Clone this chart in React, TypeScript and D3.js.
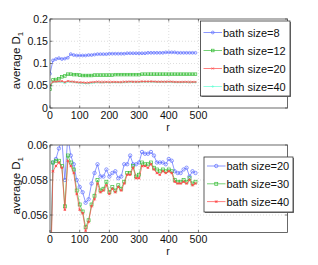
import React from "react";
import * as d3 from "d3";

const rValues = d3.range(0, 500, 10);

const bath8 = [0.077, 0.107, 0.110, 0.112, 0.110, 0.111, 0.113, 0.121, 0.119, 0.118, 0.118, 0.118, 0.118, 0.119, 0.119, 0.120, 0.121, 0.121, 0.121, 0.121, 0.122, 0.122, 0.122, 0.122, 0.122, 0.122, 0.123, 0.123, 0.123, 0.123, 0.123, 0.123, 0.123, 0.124, 0.124, 0.124, 0.124, 0.124, 0.124, 0.125, 0.125, 0.125, 0.125, 0.124, 0.124, 0.124, 0.124, 0.124, 0.124, 0.124];
const bath12 = [0.042, 0.063, 0.064, 0.066, 0.070, 0.072, 0.076, 0.076, 0.075, 0.075, 0.074, 0.073, 0.073, 0.073, 0.073, 0.074, 0.074, 0.074, 0.074, 0.074, 0.074, 0.074, 0.075, 0.075, 0.075, 0.075, 0.075, 0.075, 0.075, 0.075, 0.075, 0.076, 0.076, 0.076, 0.076, 0.076, 0.076, 0.076, 0.076, 0.076, 0.076, 0.076, 0.076, 0.076, 0.076, 0.076, 0.076, 0.076, 0.076, 0.076];
const bath20 = [0.052, 0.0590, 0.0592, 0.0598, 0.0603, 0.0580, 0.0605, 0.0594, 0.0589, 0.0580, 0.0576, 0.0573, 0.0567, 0.0569, 0.0578, 0.0584, 0.0589, 0.0582, 0.0582, 0.0586, 0.0582, 0.0584, 0.0585, 0.0581, 0.0582, 0.0589, 0.0589, 0.0594, 0.0589, 0.0589, 0.0590, 0.0596, 0.0595, 0.0595, 0.0596, 0.0594, 0.0590, 0.0590, 0.0590, 0.0589, 0.0592, 0.0591, 0.0585, 0.0584, 0.0584, 0.0586, 0.0587, 0.0582, 0.0585, 0.0584];
const bath30 = [0.0515, 0.0590, 0.0591, 0.0591, 0.0588, 0.0565, 0.0594, 0.0590, 0.0586, 0.0574, 0.0566, 0.0562, 0.0553, 0.0557, 0.0566, 0.0571, 0.0580, 0.0574, 0.0575, 0.0579, 0.0573, 0.0576, 0.0574, 0.0577, 0.0575, 0.0579, 0.0584, 0.0584, 0.0588, 0.0582, 0.0583, 0.0590, 0.0589, 0.0589, 0.0590, 0.0587, 0.0586, 0.0585, 0.0586, 0.0585, 0.0586, 0.0585, 0.0580, 0.0579, 0.0579, 0.0580, 0.0579, 0.0581, 0.0578, 0.0579];
const bath40 = [0.051, 0.0585, 0.0588, 0.0590, 0.0587, 0.0563, 0.0591, 0.0588, 0.0584, 0.0572, 0.0563, 0.0561, 0.0551, 0.0556, 0.0565, 0.0569, 0.0578, 0.0573, 0.0574, 0.0577, 0.0572, 0.0575, 0.0573, 0.0576, 0.0574, 0.0578, 0.0583, 0.0583, 0.0587, 0.0581, 0.0581, 0.0588, 0.0588, 0.0587, 0.0589, 0.0586, 0.0584, 0.0583, 0.0585, 0.0584, 0.0585, 0.0584, 0.0579, 0.0578, 0.0578, 0.0579, 0.0578, 0.0580, 0.0577, 0.0578];

const xTicks = [0, 100, 200, 300, 400, 500];
const topYTicks = [0, 0.05, 0.1, 0.15, 0.2];
const bottomYTicks = [0.056, 0.058, 0.06];
const topLabels = ["bath size=8", "bath size=12", "bath size=20", "bath size=40"];
const bottomLabels = ["bath size=20", "bath size=30", "bath size=40"];

const BLUE = "#5a6cff";
const GREEN = "#3cbf3c";
const RED = "#ff4848";
const CYAN = "#66ffd6";
const FONT = "'Liberation Sans', Arial, sans-serif";

type MarkerKind = "circle" | "square" | "x" | "plus" | "star";

function Marker({ kind, x, y, color, s }: { kind: MarkerKind; x: number; y: number; color: string; s: number }) {
  const sw = 0.7;
  if (kind === "circle") return <circle cx={x} cy={y} r={s} fill="none" stroke={color} strokeWidth={sw} />;
  if (kind === "square") return <rect x={x - s} y={y - s} width={2 * s} height={2 * s} fill="none" stroke={color} strokeWidth={sw} />;
  if (kind === "x") return <path d={`M${x - s},${y - s}L${x + s},${y + s}M${x - s},${y + s}L${x + s},${y - s}`} stroke={color} strokeWidth={sw} />;
  if (kind === "plus") return <path d={`M${x - s},${y}L${x + s},${y}M${x},${y - s}L${x},${y + s}`} stroke={color} strokeWidth={sw} />;
  return <path d={`M${x - s},${y - s}L${x + s},${y + s}M${x - s},${y + s}L${x + s},${y - s}M${x - s},${y}L${x + s},${y}M${x},${y - s}L${x},${y + s}`} stroke={color} strokeWidth={sw} />;
}

type Series = { values: number[]; color: string; marker: MarkerKind; size: number };

function Panel({ id, top, bottom, yDomain, yTicks, yFmt, series, labels, legendBox, legendDraw }: any) {
  const x = d3.scaleLinear().domain([0, 800]).range([50, 287.5]);
  const y = d3.scaleLinear().domain(yDomain).range([bottom, top]);
  const left = 50, right = 287.5;
  const line = d3.line<number>().x((_, i) => x(rValues[i])).y((d) => y(d));
  const [lx, ly, lw, lh, rowY0, rowDy, sampleX0, sampleX1] = legendBox;
  return (
    <g>
      <defs>
        <clipPath id={id}>
          <rect x={left} y={top} width={right - left} height={bottom - top} />
        </clipPath>
      </defs>
      <rect x={left} y={top} width={right - left} height={bottom - top} fill="white" />
      {xTicks.filter((t) => t > 0).map((t) => (
        <line key={"gx" + t} x1={x(t)} x2={x(t)} y1={top} y2={bottom} stroke="#c8c8c8" strokeWidth={0.6} strokeDasharray="1,2" />
      ))}
      {yTicks.filter((t: number) => t !== yDomain[0] && t !== yDomain[1]).map((t: number) => (
        <line key={"gy" + t} x1={left} x2={right} y1={y(t)} y2={y(t)} stroke="#c8c8c8" strokeWidth={0.6} strokeDasharray="1,2" />
      ))}
      <g clipPath={`url(#${id})`}>
        {series.map((s: Series, si: number) => (
          <g key={si}>
            <path d={line(s.values) || ""} fill="none" stroke={s.color} strokeWidth={0.7} />
            {s.values.map((v, i) => (
              <Marker key={i} kind={s.marker} x={x(rValues[i])} y={y(v)} color={s.color} s={s.size} />
            ))}
          </g>
        ))}
      </g>
      <rect x={left} y={top} width={right - left} height={bottom - top} fill="none" stroke="#444" strokeWidth={0.8} />
      {xTicks.map((t) => (
        <g key={"tx" + t}>
          <line x1={x(t)} x2={x(t)} y1={bottom} y2={bottom - 2.5} stroke="#444" strokeWidth={0.7} />
          <line x1={x(t)} x2={x(t)} y1={top} y2={top + 2.5} stroke="#444" strokeWidth={0.7} />
          <text x={x(t)} y={bottom + 10.5} fontSize={10.6} textAnchor="middle" fontFamily={FONT} fill="#111">{t}</text>
        </g>
      ))}
      {yTicks.map((t: number) => (
        <g key={"ty" + t}>
          <line x1={left} x2={left + 2.5} y1={y(t)} y2={y(t)} stroke="#444" strokeWidth={0.7} />
          <line x1={right} x2={right - 2.5} y1={y(t)} y2={y(t)} stroke="#444" strokeWidth={0.7} />
          <text x={left - 2} y={y(t) + 3.7} fontSize={10.6} textAnchor="end" fontFamily={FONT} fill="#111">{yFmt(t)}</text>
        </g>
      ))}
      <text x={168} y={bottom + 22.8} fontSize={10.6} textAnchor="middle" fontFamily={FONT} fill="#111">r</text>
      <text transform={`translate(20,${(top + bottom) / 2 - 3}) rotate(-90)`} fontSize={11.5} textAnchor="middle" fontFamily={FONT} fill="#111">
        average D<tspan fontSize={8} dy={3}>1</tspan>
      </text>
      <rect x={lx + 1} y={ly + 1} width={lw} height={lh} fill="#777" />
      <rect x={lx} y={ly} width={lw} height={lh} fill="white" stroke="#333" strokeWidth={0.8} />
      {labels.map((lab: string, i: number) => {
        const s = legendDraw[i];
        const yy = rowY0 + i * rowDy;
        return (
          <g key={lab}>
            <line x1={sampleX0} x2={sampleX1} y1={yy} y2={yy} stroke={s.color} strokeWidth={0.7} />
            <Marker kind={s.marker} x={(sampleX0 + sampleX1) / 2} y={yy} color={s.color} s={s.size} />
            <text x={sampleX1 + 1} y={yy + 4} fontSize={11} fontFamily={FONT} fill="#111">{lab}</text>
          </g>
        );
      })}
    </g>
  );
}

export default function App() {
  const topSeries: Series[] = [
    { values: bath8, color: BLUE, marker: "circle", size: 1.4 },
    { values: bath12, color: GREEN, marker: "square", size: 1.3 },
    { values: bath40, color: CYAN, marker: "plus", size: 1.3 },
    { values: bath20, color: RED, marker: "x", size: 1.1 },
  ];
  const topLegend = [topSeries[0], topSeries[1], topSeries[3], topSeries[2]];
  const bottomSeries: Series[] = [
    { values: bath20, color: BLUE, marker: "circle", size: 1.7 },
    { values: bath30, color: GREEN, marker: "square", size: 1.5 },
    { values: bath40, color: RED, marker: "star", size: 1.2 },
  ];
  return (
    <svg width={318} height={265} style={{ position: "absolute", left: 0, top: 0, background: "white" }}>
      <rect width={318} height={265} fill="white" />
      <Panel
        id="clipTop"
        top={19}
        bottom={108}
        yDomain={[0, 0.2]}
        yTicks={topYTicks}
        yFmt={(t: number) => String(t)}
        series={topSeries}
        labels={topLabels}
        legendBox={[200.5, 21, 89.5, 75, 32.5, 18, 203.5, 222]}
        legendDraw={topLegend}
      />
      <Panel
        id="clipBottom"
        top={145}
        bottom={232.5}
        yDomain={[0.055, 0.06]}
        yTicks={bottomYTicks}
        yFmt={(t: number) => t.toFixed(3).replace(/0$/, "")}
        series={bottomSeries}
        labels={bottomLabels}
        legendBox={[204, 157, 89, 55, 166, 17.8, 207, 225.5]}
        legendDraw={bottomSeries}
      />
    </svg>
  );
}
